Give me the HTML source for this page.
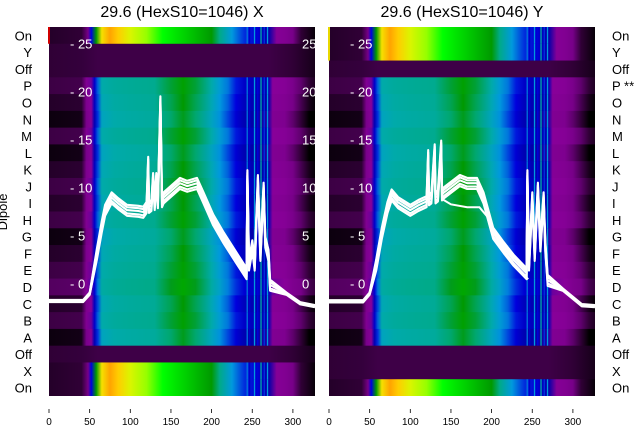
<!DOCTYPE html>
<html><head><meta charset="utf-8">
<style>
html,body{margin:0;padding:0;background:#fff;}
svg{display:block;font-family:"Liberation Sans","DejaVu Sans",sans-serif;}
</style></head>
<body>
<svg id="chart" width="640" height="440" viewBox="0 0 640 440">
  <defs id="defs"></defs>
  <text x="182" y="17" font-size="16" text-anchor="middle" fill="#000">29.6 (HexS10=1046) X</text>
  <text x="462" y="17" font-size="16" text-anchor="middle" fill="#000">29.6 (HexS10=1046) Y</text>
  <text x="0" y="0" font-size="13" text-anchor="middle" fill="#000" transform="translate(7,212) rotate(-90)">Dipole</text>
  <g id="panels"></g>
  <g id="labels"></g>
</svg>
<script>
// ---- data ----
const rowLabelsLeft = ["On","Y","Off","P","O","N","M","L","K","J","I","H","G","F","E","D","C","B","A","Off","X","On"];
const rowLabelsRight = ["On","Y","Off","P **","O","N","M","L","K","J","I","H","G","F","E","D","C","B","A","Off","X","On"];
const xTicks = [0,50,100,150,200,250,300];
const yTicks = [0,5,10,15,20,25];
const mainX = [0,40,46,52,56,60,65,80,100,130,150,165,180,200,210,220,230,240,250,270,275,290,300,310,320,330];
const mainV = [0.015,0.018,0.07,0.1,0.17,0.23,0.34,0.36,0.37,0.38,0.42,0.45,0.42,0.34,0.3,0.24,0.2,0.17,0.16,0.15,0.09,0.08,0.05,0.03,0.01,0.0];
const onX = [0,40,48,52,58,65,75,85,100,120,140,160,180,200,210,225,240,255,270,280,290,300,310,330];
const onV = [0.015,0.02,0.05,0.2,0.45,0.72,0.79,0.75,0.68,0.64,0.6,0.55,0.5,0.45,0.4,0.3,0.22,0.19,0.15,0.09,0.08,0.05,0.02,0.0];
const offX = [0,40,60,270,300,330];
const offV = [0.02,0.022,0.026,0.026,0.02,0.008];
const streakX = [243,246,252,256,260,264,268];
const streakV = [0.25,0.18,0.3,0.2,0.36,0.22,0.3];
const rowShift = [0,0,0,0.01,0,-0.01,0.01,-0.01,0,0.01,0,0.01,-0.01,0,0.01,0.02,0,0.01,-0.01,0,0,0];
const leftOnRows = [0,20,21];
const rightOnRows = [0,1,21];
const leftLineX = [0,42,50,59,65,69,77,85,96,110,116,120,122,123,126,128,130,132,134,137,139,141,145,161,170,182,190,202,215,227,243,244,246,250,253,257,260,264,266,270,272,292,309,327];
const leftLineV = [-1.77,-1.77,-1,3.2,6,7.7,9.0,8.4,7.7,7.6,7.5,8,12.7,8,8.2,11,8.3,11,8.5,19,8.6,9,9.3,10.5,10.2,10.5,9,6.7,4.8,3.2,1.1,11.3,2,4,2,10.8,3,10,4.4,3,-0.1,-1,-2,-2.3];
const rightLineX = [0,42,50,58,65,72,77,85,100,110,120,122,123,126,130,131,134,138,139,141,161,170,182,190,202,215,227,243,244,246,250,253,257,260,264,266,269,288,311,327];
const rightLineV = [-1.8,-1.8,-1,2,5.3,8,9.3,8.5,7.7,8.2,8.6,13.4,8.8,9,14,9,9.2,14.4,9.3,9.5,10.8,10.5,10.5,9,5.3,3.8,2.5,1.1,11.3,2,9,3,10,4,9,4,0.4,-0.6,-2.2,-2.3];
const rightLowX = [140,150,170,185,195,205,215,230,245];
const rightLowV = [8.8,8.3,8,8,7,5,3.5,1.8,0.5];
const lineOffsets = [0,-0.35,0.3,-0.6,0.55];

// ---- colormap (nipy_spectral) ----
const cmV=[0,0.05,0.1,0.15,0.2,0.25,0.3,0.35,0.4,0.45,0.5,0.55,0.6,0.65,0.7,0.75,0.8,0.85,0.9,0.95,1];
const cmC=[[0,0,0],[.4667,0,.5333],[.5333,0,.6],[0,0,.6667],[0,0,.8667],[0,.4667,.8667],[0,.6,.8667],[0,.6667,.6667],[0,.6667,.5333],[0,.6,0],[0,.7333,0],[0,.8667,0],[0,1,0],[.7333,1,0],[.9333,.9333,0],[1,.8,0],[1,.6,0],[1,0,0],[.8667,0,0],[.8,0,0],[.8,.8,.8]];
function cmap(v){v=Math.max(0,Math.min(1,v));let i=Math.min(19,Math.floor(v/0.05));const t=(v-cmV[i])/0.05;
 const c=cmC[i].map((a,k)=>Math.round(255*(a+(cmC[i+1][k]-a)*t)));return `rgb(${c[0]},${c[1]},${c[2]})`;}

const NS="http://www.w3.org/2000/svg";
const defs=document.getElementById('defs');
const panelsG=document.getElementById('panels');
const labelsG=document.getElementById('labels');
const top0=27, rowH=369/22, xMaxData=330, yZero=284, yPerUnit=9.6;

function mk(tag,attrs,parent){const e=document.createElementNS(NS,tag);for(const k in attrs)e.setAttribute(k,attrs[k]);parent.appendChild(e);return e;}
function gradient(id,xs,vs,shift){
  const g=mk('linearGradient',{id:id,x1:0,x2:1,y1:0,y2:0},defs);
  xs.forEach((x,i)=>{mk('stop',{offset:(x/xMaxData),'stop-color':cmap(vs[i]+shift)},g);});
}
function drawPanel(p){
  const sx=d=>p.x0+d*0.813;
  const sy=v=>yZero-v*yPerUnit;
  const g=mk('g',{},panelsG);
  
  
  const cp=mk('clipPath',{id:p.name+'-clip'},defs);
  mk('rect',{x:p.left,y:top0,width:p.right-p.left,height:369},cp);
  g.setAttribute('clip-path','url(#'+p.name+'-clip)');
  for(let r=0;r<22;r++){
    let xs,vs;
    if(p.onRows.includes(r)){xs=onX;vs=onV;}
    else if(r>=3&&r<=18){xs=mainX;vs=mainV;}
    else {xs=offX;vs=offV;}
    const id=p.name+'-g'+r;
    gradient(id,xs,vs,(r>=3&&r<=18)?rowShift[r]:0);
    const cell=mk('rect',{x:sx(0),y:top0+r*rowH,width:sx(xMaxData)-sx(0),height:rowH+0.6,fill:'url(#'+id+')'},g);
    
    
    if((r>=3&&r<=18)||p.onRows.includes(r)){
      streakX.forEach((sxv,i)=>{
        const s=mk('rect',{x:sx(sxv),y:top0+r*rowH,width:1.3,height:rowH+0.6,fill:cmap(streakV[i])},g);
        
        
      });
    }
  }
  mk('rect',{x:p.left,y:top0,width:2,height:rowH*(p.onRows.includes(1)?2:1),fill:p.edge},g);
  // lines
  const ptsFor=(xs,vs,o)=>xs.map((x,i)=>sx(x).toFixed(1)+','+sy(vs[i]+o*(x>55&&x<275?1:0.2)).toFixed(1)).join(' ');
  lineOffsets.forEach(o=>{
    const l=mk('polyline',{points:ptsFor(p.lx,p.lv,o),fill:'none',stroke:'#fff','stroke-width':2.1,'stroke-linejoin':'round'},g);
    
    
  });
  if(p.lowX){
    const l=mk('polyline',{points:ptsFor(p.lowX,p.lowV,0),fill:'none',stroke:'#fff','stroke-width':2},g);
    
    
  }
  // inner y ticks
  yTicks.forEach(t=>{
    const tx=mk('text',{x:p.tickX,y:sy(t)+4.5,'font-size':13,fill:'#fff'},g);
    tx.textContent='- '+t;
    
    
  });
  // x ticks
  xTicks.forEach(t=>{
    const ln=mk('line',{x1:sx(t),x2:sx(t),y1:409,y2:413,stroke:'#000','stroke-width':0.8},labelsG);
    
    
    const tx=mk('text',{x:sx(t),y:425,'font-size':10,'text-anchor':'middle',fill:'#000'},labelsG);
    tx.textContent=t;
    
    
  });
  // row labels
  p.labels.forEach((lab,r)=>{
    const tx=mk('text',{x:p.labX,y:top0+(r+0.5)*rowH+5,'font-size':13,'text-anchor':p.anchor,fill:'#000'},labelsG);
    tx.textContent=lab;
    
    
  });
}
drawPanel({name:'left',x0:49,left:48,right:315,onRows:leftOnRows,lx:leftLineX,lv:leftLineV,lowX:null,tickX:70,labels:rowLabelsLeft,labX:32,anchor:'end',edge:'#d00000'});
drawPanel({name:'right',x0:329,left:328,right:595,onRows:rightOnRows,lx:rightLineX,lv:rightLineV,lowX:rightLowX,lowV:rightLowV,tickX:350,labels:rowLabelsRight,labX:612,anchor:'start',edge:'#e8d800'});
// left panel's right-edge tick labels (clipped)
const cl=mk('clipPath',{id:'edgeclip'},defs);mk('rect',{x:295,y:27,width:20,height:369},cl);
const eg=mk('g',{'clip-path':'url(#edgeclip)'},panelsG);


yTicks.forEach(t=>{const tx=mk('text',{x:302,y:yZero-t*yPerUnit+4.5,'font-size':13,fill:'#fff'},eg);tx.textContent=t;});
</script>
</body></html>
